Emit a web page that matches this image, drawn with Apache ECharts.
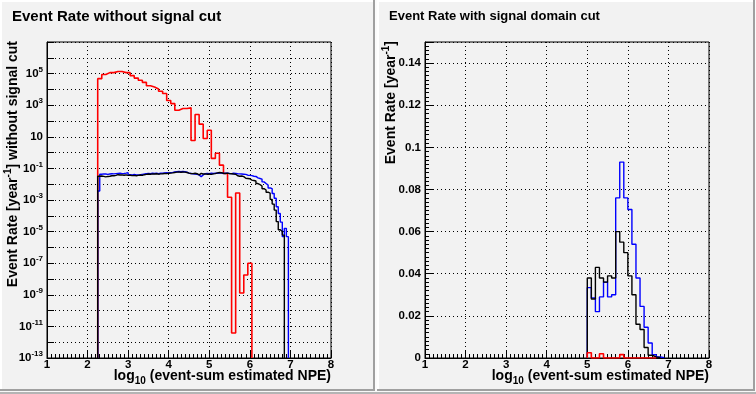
<!DOCTYPE html>
<html>
<head>
<meta charset="utf-8">
<script src="https://cdn.jsdelivr.net/npm/echarts@6/dist/echarts.min.js"></script>
<style>
html,body{margin:0;padding:0;background:#ffffff;}
#chart{width:756px;height:394px;}
</style>
</head>
<body>
<div id="chart"></div>
<script>
// ---------------- data ----------------
const leftTitle = 'Event Rate without signal cut';
const rightTitle = 'Event Rate with signal domain cut';
const leftYTitle = ['Event Rate [year', '-1', '] without signal cut'];
const rightYTitle = ['Event Rate [year', '-1', ']'];
const xTitle = ['log', '10', ' (event-sum estimated NPE)'];
const xTickLabels = ['1', '2', '3', '4', '5', '6', '7', '8'];
const leftYTickExponents = [5, 3, 1, -1, -3, -5, -7, -9, -11, -13];
const rightYTickLabels = ['0', '0.02', '0.04', '0.06', '0.08', '0.1', '0.12', '0.14'];

// left panel (log scale), red histogram: 0.1-wide bins
const leftRedStart = 2.25;
const leftRedWidth = 0.1;
const leftRed = [
  4.8e4, 8.7e4, 1.15e5, 1.15e5, 1.35e5, 1.35e5, 1.15e5, 1.15e5, 7.4e4, 5.2e4,
  3.8e4, 2.8e4, 1.7e4, 1.4e4, 1.07e4, 7.6e3, 5.5e3, 2.0e3, 1.26e3, 480,
  620, 620, 680, 5.8, 260, 63, 7.8, 26, 0.43, 0.9,
  0.16, 0.048, 1.5e-3, 3.8e-12, 2.8e-3, 1.3e-9, 1.8e-8, 1.0e-7
];

// left panel, black and blue histograms: 0.05-wide bins
const leftFineStart = 2.25;
const leftFineWidth = 0.05;
const leftBlack = [
  0.032, 0.033, 0.031, 0.029, 0.031, 0.032, 0.034, 0.034, 0.036,
  0.040, 0.038, 0.039, 0.037, 0.039,
  0.036, 0.037, 0.035, 0.036, 0.034, 0.036, 0.038, 0.036, 0.040,
  0.042, 0.044, 0.043, 0.045, 0.044, 0.046, 0.043, 0.045, 0.046,
  0.048, 0.047, 0.049, 0.050, 0.052,
  0.055, 0.058, 0.060, 0.057, 0.059, 0.058, 0.055,
  0.050, 0.048, 0.047, 0.049, 0.046,
  0.039, 0.048,
  0.044, 0.045, 0.043, 0.044, 0.042, 0.045, 0.047,
  0.052, 0.055, 0.053,
  0.049, 0.048, 0.050, 0.047, 0.046,
  0.044, 0.043,
  0.034, 0.032, 0.033, 0.030,
  0.024, 0.023, 0.022,
  0.018, 0.017, 0.016,
  0.011, 0.0095, 0.0076, 0.0052, 0.0043, 0.0031, 0.0027, 0.0011,
  5.5e-4, 2.3e-4, 4.3e-5, 1.3e-5, 1.0e-5, 6e-6
];
const leftBlue = [
  0.0037,
  0.043, 0.045, 0.044, 0.042, 0.044, 0.046, 0.045, 0.047,
  0.048, 0.049, 0.047, 0.048, 0.050,
  0.054,
  0.040, 0.039, 0.041, 0.038, 0.039, 0.040, 0.042, 0.044,
  0.047, 0.048, 0.046, 0.049, 0.048, 0.050, 0.047, 0.049, 0.050,
  0.052, 0.053, 0.051, 0.054, 0.056,
  0.060, 0.062, 0.064, 0.061, 0.063, 0.062, 0.058,
  0.050, 0.048, 0.046, 0.044, 0.042,
  0.039, 0.030, 0.039,
  0.046, 0.048, 0.047, 0.049, 0.048, 0.050, 0.049, 0.051, 0.050,
  0.048, 0.049, 0.050, 0.048, 0.047, 0.049, 0.048, 0.046, 0.045,
  0.044, 0.043, 0.042,
  0.037, 0.036, 0.035,
  0.032, 0.031,
  0.025, 0.023, 0.021,
  0.014, 0.011, 0.0087, 0.0058, 0.0052, 0.0026, 0.0013,
  3.7e-4, 1.4e-4, 4e-5, 4.8e-6, 1.6e-5, 4.8e-6
];

// right panel (linear scale): 0.1-wide bins from 5.0
const rightStart = 5.0;
const rightWidth = 0.1;
const rightBlack = [0.038, 0.028, 0.043, 0.038, 0.036, 0.039, 0.038, 0.060, 0.055, 0.050,
  0.039, 0.030, 0.016, 0.0135, 0.005, 0.0013, 0.0005, 0.0002];
const rightBlue = [0.0334, 0.0285, 0.022, 0.029, 0.036, 0.029, 0.030, 0.076, 0.093, 0.076,
  0.0705, 0.054, 0.038, 0.0245, 0.0146, 0.0071, 0.0016, 0.0005, 0.0002];
const rightRed = [0.0025, 0, 0, 0.002, 0, 0, 0, 0, 0.0016, 0, 0, 0, 0, 0, 0, 0, 0];

// ---------------- helpers ----------------
const FONT = "'Liberation Sans', Arial, Helvetica, sans-serif";
const LOG_MIN = 1e-13, LOG_MAX = 1e7;

function histSteps(start, width, vals, floor) {
  const d = [[start, floor]];
  vals.forEach((v, i) => d.push([+(start + i * width).toFixed(4), v]));
  d.push([+(start + vals.length * width).toFixed(4), floor]);
  return d;
}

const dotted = { type: [1, 3], color: '#000', width: 1 };

function xAxisCfg(gi) {
  return {
    type: 'value', gridIndex: gi, min: 1, max: 8, interval: 1,
    axisLine: { show: true, lineStyle: { color: '#000', width: 1 } },
    axisTick: { show: true, inside: true, length: 8, lineStyle: { color: '#000', width: 1 } },
    minorTick: { show: true, splitNumber: 10, length: 4, lineStyle: { color: '#000', width: 1 } },
    axisLabel: {
      show: true, color: '#000', fontFamily: FONT, fontWeight: 'bold', fontSize: 11.5, margin: 1,
      showMinLabel: true, showMaxLabel: true, hideOverlap: false,
      formatter: v => xTickLabels[Math.round(v) - 1] || ''
    },
    splitLine: { show: true, lineStyle: dotted },
    minorSplitLine: { show: false }
  };
}

function series(data, color, gi, z, w) {
  return {
    type: 'line', xAxisIndex: gi, yAxisIndex: gi, data: data, step: 'end',
    showSymbol: false, symbol: 'none', silent: true, animation: false, clip: true,
    lineStyle: { color: color, width: w }, itemStyle: { color: color }, z: z
  };
}

function richTitle(parts, sub) {
  return '{m|' + parts[0] + '}{' + (sub ? 'b' : 't') + '|' + parts[1] + '}{m|' + parts[2] + '}';
}
const titleRich = {
  m: { fontSize: 14, fontWeight: 'bold', fontFamily: FONT, fill: '#000', color: '#000', lineHeight: 20 },
  t: { fontSize: 10, fontWeight: 'bold', fontFamily: FONT, fill: '#000', color: '#000', verticalAlign: 'top' },
  b: { fontSize: 10, fontWeight: 'bold', fontFamily: FONT, fill: '#000', color: '#000', verticalAlign: 'bottom' }
};

// ---------------- chart ----------------
const chart = echarts.init(document.getElementById('chart'), null, { renderer: 'canvas' });

const option = {
  backgroundColor: '#f2f2f2',
  animation: false,
  grid: [
    { left: 47, top: 42, width: 284, height: 316, show: true, borderColor: '#000', borderWidth: 1, backgroundColor: 'transparent', containLabel: false, outerBoundsMode: 'none' },
    { left: 425, top: 42, width: 284, height: 316, show: true, borderColor: '#000', borderWidth: 1, backgroundColor: 'transparent', containLabel: false, outerBoundsMode: 'none' }
  ],
  xAxis: [xAxisCfg(0), xAxisCfg(1)],
  yAxis: [
    {
      type: 'log', logBase: 10, gridIndex: 0, min: LOG_MIN, max: LOG_MAX, interval: 1, splitNumber: 20,
      axisLine: { show: true, lineStyle: { color: '#000', width: 1 } },
      axisTick: { show: true, inside: true, length: 7, lineStyle: { color: '#000', width: 1 } },
      minorTick: { show: false },
      axisLabel: {
        show: true, margin: 4, hideOverlap: false, showMinLabel: true, showMaxLabel: true,
        formatter: v => {
          const e = Math.round(Math.log10(v));
          if (leftYTickExponents.indexOf(e) < 0) return '';
          if (e === 1) return '{b|10}';
          return '{b|10}{s|' + e + '}';
        },
        rich: {
          b: { fontSize: 11.5, fontWeight: 'bold', fontFamily: FONT, color: '#000', lineHeight: 16 },
          s: { fontSize: 8, fontWeight: 'bold', fontFamily: FONT, color: '#000', verticalAlign: 'top' }
        }
      },
      splitLine: { show: true, lineStyle: dotted }
    },
    {
      type: 'value', gridIndex: 1, min: 0, max: 0.15, interval: 0.02,
      axisLine: { show: true, lineStyle: { color: '#000', width: 1 } },
      axisTick: { show: true, inside: true, length: 8, lineStyle: { color: '#000', width: 1 } },
      minorTick: { show: true, splitNumber: 10, length: 4, lineStyle: { color: '#000', width: 1 } },
      axisLabel: {
        show: true, color: '#000', fontFamily: FONT, fontWeight: 'bold', fontSize: 11.5, margin: 4,
        hideOverlap: false, showMinLabel: true, showMaxLabel: true,
        formatter: v => {
          const idx = Math.round(v / 0.02);
          if (Math.abs(v - idx * 0.02) > 1e-9) return '';
          return rightYTickLabels[idx] || '';
        }
      },
      splitLine: { show: true, lineStyle: dotted },
      minorSplitLine: { show: false }
    }
  ],
  series: [
    series(histSteps(leftRedStart, leftRedWidth, leftRed, LOG_MIN), '#ff0000', 0, 3, 1.6),
    series(histSteps(leftFineStart, leftFineWidth, leftBlue, LOG_MIN), '#0000ff', 0, 4, 1.4),
    series(histSteps(leftFineStart, leftFineWidth, leftBlack, LOG_MIN), '#000000', 0, 5, 1.4),
    series(histSteps(rightStart, rightWidth, rightBlue, 0), '#0000ff', 1, 3, 1.4),
    series(histSteps(rightStart, rightWidth, rightBlack, 0), '#000000', 1, 4, 1.4),
    series(histSteps(rightStart, rightWidth, rightRed, 0), '#ff0000', 1, 5, 1.6)
  ],
  graphic: {
    elements: [
      // gap between the two pads
      { type: 'rect', silent: true, z: -1, shape: { x: 375, y: 0, width: 2, height: 394 }, style: { fill: '#fbfbfb' } },
      // left pad bevel
      { type: 'rect', silent: true, shape: { x: 0, y: 0, width: 375, height: 2 }, style: { fill: '#ffffff' } },
      { type: 'rect', silent: true, shape: { x: 0, y: 0, width: 2, height: 390 }, style: { fill: '#ffffff' } },
      { type: 'rect', silent: true, shape: { x: 373, y: 0, width: 2, height: 391 }, style: { fill: '#a0a0a0' } },
      { type: 'rect', silent: true, shape: { x: 0, y: 389, width: 375, height: 2 }, style: { fill: '#a0a0a0' } },
      // right pad bevel
      { type: 'rect', silent: true, shape: { x: 377, y: 0, width: 378, height: 2 }, style: { fill: '#ffffff' } },
      { type: 'rect', silent: true, shape: { x: 377, y: 0, width: 2, height: 390 }, style: { fill: '#ffffff' } },
      { type: 'rect', silent: true, shape: { x: 753, y: 0, width: 2, height: 391 }, style: { fill: '#a0a0a0' } },
      { type: 'rect', silent: true, shape: { x: 377, y: 389, width: 378, height: 2 }, style: { fill: '#a0a0a0' } },
      { type: 'rect', silent: true, shape: { x: 755, y: 0, width: 1, height: 394 }, style: { fill: '#fbfbfb' } },
      // bottom strip
      { type: 'rect', silent: true, shape: { x: 0, y: 391, width: 756, height: 1 }, style: { fill: '#f8f8f8' } },
      { type: 'rect', silent: true, shape: { x: 0, y: 392, width: 756, height: 2 }, style: { fill: '#b4b4b4' } },
      // pad titles
      { type: 'text', silent: true, x: 12, y: 16.5,
        style: { text: leftTitle, fontSize: 15, fontWeight: 'bold', fontFamily: FONT, fill: '#000', align: 'left', verticalAlign: 'middle', textAlign: 'left', textVerticalAlign: 'middle' } },
      { type: 'text', silent: true, x: 389, y: 16,
        style: { text: rightTitle, fontSize: 13, fontWeight: 'bold', fontFamily: FONT, fill: '#000', align: 'left', verticalAlign: 'middle', textAlign: 'left', textVerticalAlign: 'middle' } },
      // y-axis titles (rotated)
      { type: 'text', silent: true, x: 13, y: 41, rotation: Math.PI / 2,
        style: { text: richTitle(leftYTitle, false), rich: titleRich, fill: '#000', align: 'right', verticalAlign: 'middle', textAlign: 'right', textVerticalAlign: 'middle' } },
      { type: 'text', silent: true, x: 391, y: 41, rotation: Math.PI / 2,
        style: { text: richTitle(rightYTitle, false), rich: titleRich, fill: '#000', align: 'right', verticalAlign: 'middle', textAlign: 'right', textVerticalAlign: 'middle' } },
      // x-axis titles
      { type: 'text', silent: true, x: 331, y: 376,
        style: { text: richTitle(xTitle, true), rich: titleRich, fill: '#000', align: 'right', verticalAlign: 'middle', textAlign: 'right', textVerticalAlign: 'middle' } },
      { type: 'text', silent: true, x: 709, y: 376,
        style: { text: richTitle(xTitle, true), rich: titleRich, fill: '#000', align: 'right', verticalAlign: 'middle', textAlign: 'right', textVerticalAlign: 'middle' } }
    ]
  }
};

chart.setOption(option);
</script>
</body>
</html>
